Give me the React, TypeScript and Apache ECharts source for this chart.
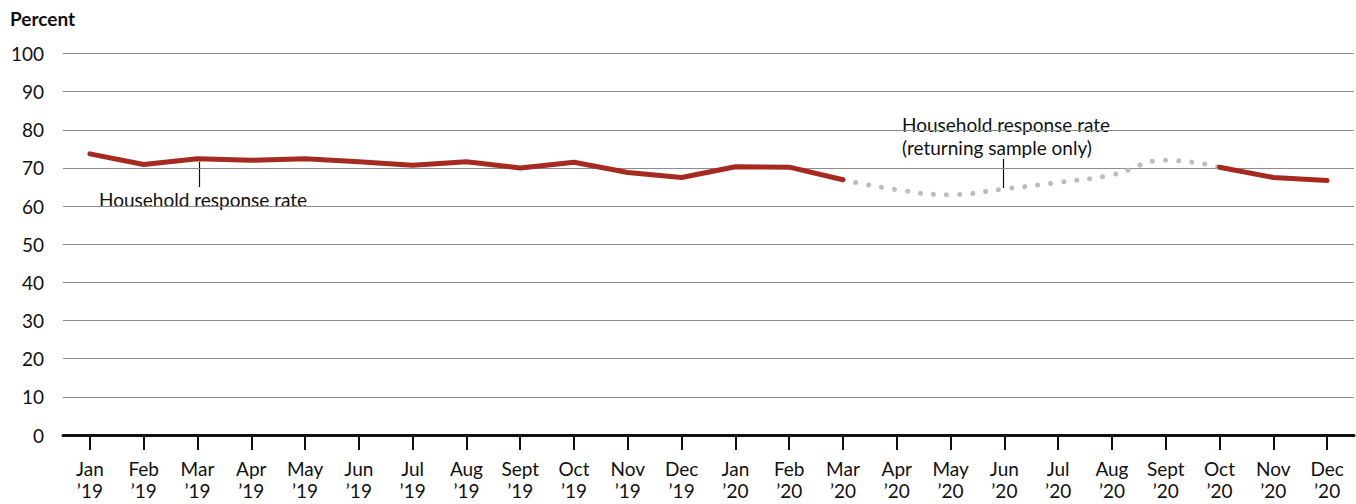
import React, { useEffect, useRef } from "react";
import * as echarts from "echarts";

const categories = [
  "Jan ’19", "Feb ’19", "Mar ’19", "Apr ’19", "May ’19", "Jun ’19", "Jul ’19", "Aug ’19",
  "Sept ’19", "Oct ’19", "Nov ’19", "Dec ’19", "Jan ’20", "Feb ’20", "Mar ’20", "Apr ’20",
  "May ’20", "Jun ’20", "Jul ’20", "Aug ’20", "Sept ’20", "Oct ’20", "Nov ’20", "Dec ’20",
];

// Household response rate (solid red)
const householdRate: (number | null)[] = [
  73.7, 70.9, 72.4, 72.0, 72.4, 71.6, 70.7, 71.6, 70.0, 71.5, 68.8, 67.5, 70.3, 70.2, 66.9,
  null, null, null, null, null, null, 70.2, 67.5, 66.7,
];

// Household response rate, returning sample only (dotted gray)
const returningSampleRate: (number | null)[] = [
  null, null, null, null, null, null, null, null, null, null, null, null, null, null, 66.9,
  64.3, 63.0, 64.5, 66.2, 68.2, 72.0, 70.2, null, null,
];

const yTicks = { min: 0, max: 100, interval: 10 };
const FONT = "Lato, Roboto, sans-serif";

export default function App() {
  const ref = useRef<HTMLDivElement>(null);
  useEffect(() => {
    if (!ref.current) return;
    const chart = echarts.init(ref.current, null, { renderer: "svg" });
    chart.setOption({
      animation: false,
      textStyle: { fontFamily: FONT },
      grid: { left: 63, right: 2, top: 53.5, bottom: 69, containLabel: false },
      xAxis: {
        type: "category",
        data: categories,
        boundaryGap: true,
        axisLine: { show: true, lineStyle: { color: "#111", width: 3 } },
        axisTick: {
          show: true,
          interval: 0,
          alignWithLabel: true,
          length: 15,
          lineStyle: { color: "#111", width: 2 },
        },
        axisLabel: {
          formatter: (v: string) => v.replace(" ", "\n"),
          color: "#111",
          fontSize: 19,
          lineHeight: 22,
          margin: 22,
          interval: 0,
          fontFamily: FONT,
        },
        splitLine: { show: false },
      },
      yAxis: {
        type: "value",
        min: yTicks.min,
        max: yTicks.max,
        interval: yTicks.interval,
        axisLine: { show: false },
        axisTick: { show: false },
        axisLabel: { color: "#111", fontSize: 19, margin: 19, fontFamily: FONT },
        splitLine: { lineStyle: { color: "#8c8c8c", width: 1 } },
      },
      series: [
        {
          type: "line",
          data: returningSampleRate,
          smooth: 0.5,
          symbol: "none",
          z: 2,
          lineStyle: { color: "#bcbcbc", width: 5, type: [0.1, 13], cap: "round" },
        },
        {
          type: "line",
          data: householdRate,
          symbol: "none",
          z: 3,
          lineStyle: { color: "#a62a20", width: 5, cap: "round", join: "round" },
        },
      ],
      graphic: [
        {
          type: "text",
          left: 10,
          top: 9,
          style: { text: "Percent", fontSize: 19, fontWeight: "bold", fill: "#111", fontFamily: FONT },
        },
        {
          type: "line",
          shape: { x1: 199.5, y1: 162, x2: 199.5, y2: 187 },
          style: { stroke: "#111", lineWidth: 1.2 },
        },
        {
          type: "text",
          x: 93,
          y: 199,
          style: {
            text: "Household response rate",
            fontSize: 19,
            fill: "#111",
            fontFamily: FONT,
            verticalAlign: "middle",
            backgroundColor: "#fff",
            padding: [0, 6, 0, 6],
          },
        },
        {
          type: "line",
          shape: { x1: 1003.5, y1: 159, x2: 1003.5, y2: 188 },
          style: { stroke: "#111", lineWidth: 1.2 },
        },
        {
          type: "text",
          x: 895,
          y: 113,
          style: {
            text: "Household response rate\n(returning sample only)",
            fontSize: 19,
            lineHeight: 23,
            fill: "#111",
            fontFamily: FONT,
            verticalAlign: "top",
            backgroundColor: "#fff",
            padding: [0, 7, 0, 7],
          },
        },
      ],
    });
    return () => chart.dispose();
  }, []);
  return (
    <div
      ref={ref}
      style={{ position: "absolute", left: 0, top: 0, width: 1356, height: 504, background: "#fff" }}
    />
  );
}
